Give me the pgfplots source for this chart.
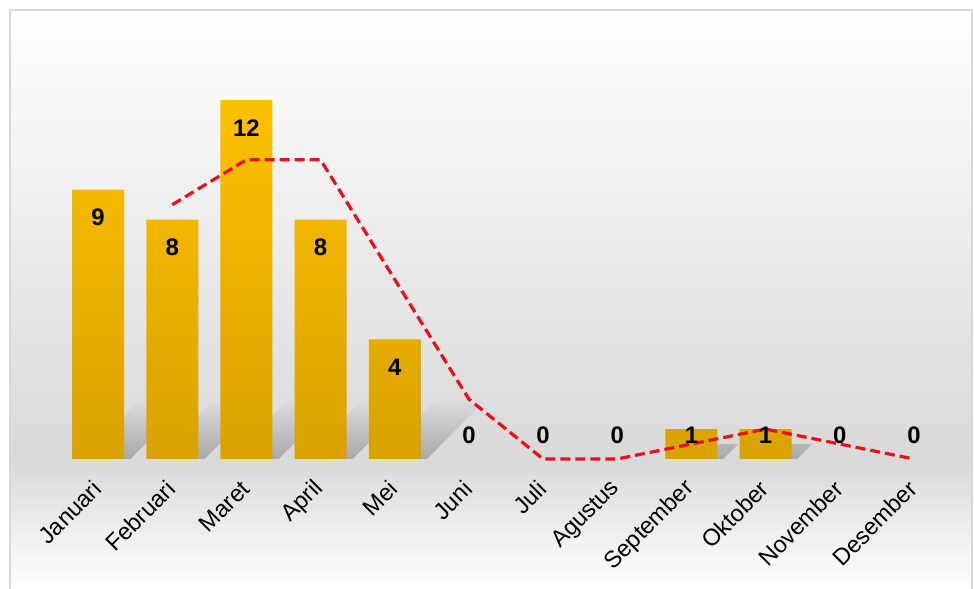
\documentclass[border=0pt]{standalone}
\usepackage{pgfplots}
\pgfplotsset{compat=1.18}
\usetikzlibrary{fadings}
\usepackage{fontspec}
\setmainfont{Liberation Sans}
\definecolor{barTop}{HTML}{FFC000}
\definecolor{barBot}{HTML}{D8A200}
\definecolor{bgGray}{HTML}{D9D9D9}
\definecolor{frameGray}{HTML}{D9D9D9}
\definecolor{lineRed}{HTML}{E8101C}
\pgfplotstableread{
x y
0 9
1 8
2 12
3 8
4 4
5 0
6 0
7 0
8 1
9 1
10 0
11 0
}\counts
\pgfplotstableread{
x y
1 8.5
2 10
3 10
4 6
5 2
6 0
7 0
8 0.5
9 1
10 0.5
11 0
}\trend
\begin{document}
\begin{tikzpicture}[x=1bp,y=1bp]
\useasboundingbox (0,0) rectangle (974,589);
\shade[top color=white, bottom color=bgGray] (10,130) rectangle (972,579);
\shade[top color=bgGray, bottom color=white] (10,0) rectangle (972,130);
\draw[frameGray, line width=1.5bp] (10,-2) -- (10,579) -- (972,579) -- (972,-2);
\begin{axis}[
  at={(61bp,130bp)}, anchor=south west,
  scale only axis, width=890bp, height=359bp,
  xmin=-0.5, xmax=11.5, ymin=0, ymax=12,
  axis line style={draw=none}, tick style={draw=none},
  ytick=\empty,
  xtick={0,...,11},
  xticklabels={Januari,Februari,Maret,April,Mei,Juni,Juli,Agustus,September,Oktober,November,Desember},
  xticklabel style={font=\fontsize{23.5}{27}\selectfont, yshift=-26bp, xshift=-1bp, rotate=45, anchor=east, inner sep=0pt},
  /pgf/number format/assume math mode=true,
  clip=false,
]
% soft shadows behind the bars
\addplot[ybar, bar width=50bp, draw=none, fill=black, fill opacity=0.22, path fading=north,
  /tikz/xslant=1, bar shift=8bp,
  y filter/.expression={y==0 ? nan : min(y*0.5,2)}, unbounded coords=discard]
  table[x=x,y=y] {\counts};
% bars
\addplot[ybar, bar width=52bp, draw=none, top color=barTop, bottom color=barBot,
  y filter/.expression={y==0 ? nan : y}, unbounded coords=discard]
  table[x=x,y=y] {\counts};
% trend line
\addplot[lineRed, line width=3.2bp, dash pattern=on 10bp off 5bp] table[x=x,y=y] {\trend};
% value labels
\addplot[draw=none, mark=none,
  visualization depends on={y \as \rawy},
  nodes near coords,
  nodes near coords style={font=\fontsize{24}{28}\selectfont\bfseries, anchor=center, text=black, yshift={ifthenelse(\rawy>1.5,-28,24-30*\rawy)}},
] table[x=x,y=y] {\counts};
\end{axis}
\end{tikzpicture}
\end{document}
